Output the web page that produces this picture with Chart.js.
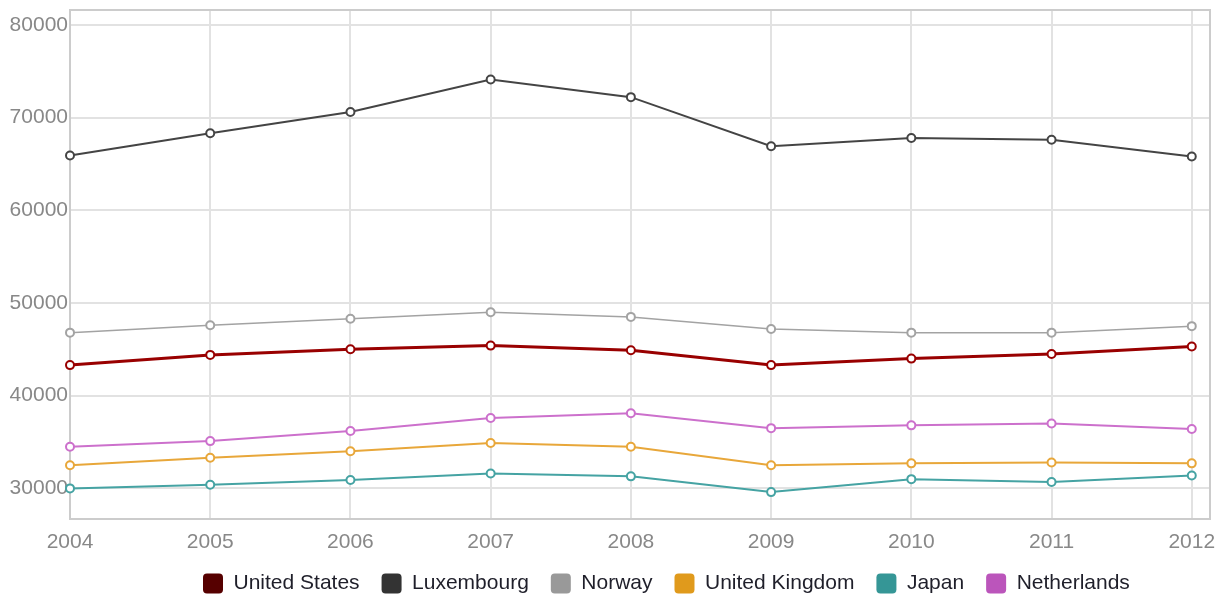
<!DOCTYPE html>
<html>
<head>
<meta charset="utf-8">
<script src="https://cdn.jsdelivr.net/npm/chart.js@4.4.1/dist/chart.umd.min.js"></script>
<style>
  html, body { margin: 0; padding: 0; background: #fff; }
  #wrap { width: 1227px; height: 596px; position: relative; }
</style>
</head>
<body>
<div id="wrap"><canvas id="c" width="1227" height="596"></canvas></div>
<script>
// ---- data ----
const years = [2004, 2005, 2006, 2007, 2008, 2009, 2010, 2011, 2012];
const yTicks = [30000, 40000, 50000, 60000, 70000, 80000];
const seriesNames = ["United States", "Luxembourg", "Norway", "United Kingdom", "Japan", "Netherlands"];
const unitedStates   = [43300, 44400, 45000, 45400, 44900, 43300, 44000, 44500, 45300];
const luxembourg     = [65900, 68300, 70600, 74100, 72200, 66900, 67800, 67600, 65800];
const norway         = [46800, 47600, 48300, 49000, 48500, 47200, 46800, 46800, 47500];
const unitedKingdom  = [32500, 33300, 34000, 34900, 34500, 32500, 32700, 32800, 32700];
const japan          = [30000, 30400, 30900, 31600, 31300, 29600, 31000, 30700, 31400];
const netherlands    = [34500, 35100, 36200, 37600, 38100, 36500, 36800, 37000, 36400];

// ---- styles ----
const seriesValues = [unitedStates, luxembourg, norway, unitedKingdom, japan, netherlands];
const lineColors   = ["#990000", "#444444", "#a3a3a3", "#e8a73a", "#45a3a3", "#cc70cc"];
const legendColors = ["#560000", "#333333", "#999999", "#e09a1c", "#359696", "#bb55bb"];
const lineWidths   = [3, 2, 1.5, 2, 2, 2];
const FONT = "'Liberation Sans', Arial, sans-serif";

const datasets = seriesValues.map((vals, i) => ({
  label: seriesNames[i],
  data: vals.map((v, j) => ({ x: years[j], y: v })),
  borderColor: lineColors[i],
  backgroundColor: "#ffffff",
  borderWidth: lineWidths[i],
  pointRadius: 4,
  pointBorderWidth: 2,
  pointBackgroundColor: "#ffffff",
  pointBorderColor: lineColors[i],
  tension: 0,
  clip: false
}));

const boxPlugin = {
  id: "boxPlugin",
  afterLayout(chart) {
    const lg = chart.legend;
    if (lg) {
      lg.left = 181;
      lg.top = 551;
      lg.bottom = 596;
      lg.height = 45;
    }
  },
  beforeDatasetsDraw(chart) {
    const a = chart.chartArea;
    const ctx = chart.ctx;
    ctx.save();
    ctx.strokeStyle = "#cccccc";
    ctx.lineWidth = 2;
    ctx.strokeRect(a.left, a.top, a.right - a.left, a.bottom - a.top);
    ctx.restore();
  }
};

new Chart(document.getElementById("c"), {
  type: "line",
  data: { datasets },
  plugins: [boxPlugin],
  options: {
    responsive: false,
    animation: false,
    devicePixelRatio: 1,
    layout: { padding: { top: 10, right: 17, left: 0, bottom: 0 } },
    scales: {
      x: {
        type: "linear",
        min: 2004,
        max: 2012.13,
        afterBuildTicks: (s) => { s.ticks = years.map(v => ({ value: v })); },
        afterFit: (s) => { s.height = 57; s.paddingLeft = 0; s.paddingRight = 0; },
        grid: { color: "#e2e2e2", lineWidth: 2, drawTicks: false },
        border: { display: false },
        ticks: {
          padding: 11,
          autoSkip: false,
          maxRotation: 0,
          color: "#888888",
          font: { family: FONT, size: 21 },
          callback: (v) => String(v)
        }
      },
      y: {
        type: "linear",
        min: 26700,
        max: 81600,
        afterBuildTicks: (s) => { s.ticks = yTicks.map(v => ({ value: v })); },
        afterFit: (s) => { s.width = 70; s.paddingTop = 0; s.paddingBottom = 0; },
        grid: { color: "#e2e2e2", lineWidth: 2, drawTicks: false },
        border: { display: false },
        ticks: {
          padding: 2,
          color: "#888888",
          font: { family: FONT, size: 21 },
          callback: (v) => String(v)
        }
      }
    },
    plugins: {
      tooltip: { enabled: false },
      legend: {
        position: "bottom",
        align: "start",
        maxHeight: 20,
        labels: {
          boxWidth: 20,
          boxHeight: 20,
          padding: 22,
          useBorderRadius: true,
          borderRadius: 4,
          color: "#1f1f2a",
          font: { family: FONT, size: 21 },
          generateLabels: (chart) => seriesNames.map((n, i) => ({
            text: n,
            fillStyle: legendColors[i],
            strokeStyle: legendColors[i],
            lineWidth: 0,
            hidden: false,
            datasetIndex: i,
            fontColor: "#1f1f2a",
            borderRadius: 4
          }))
        }
      }
    }
  }
});
</script>
</body>
</html>
